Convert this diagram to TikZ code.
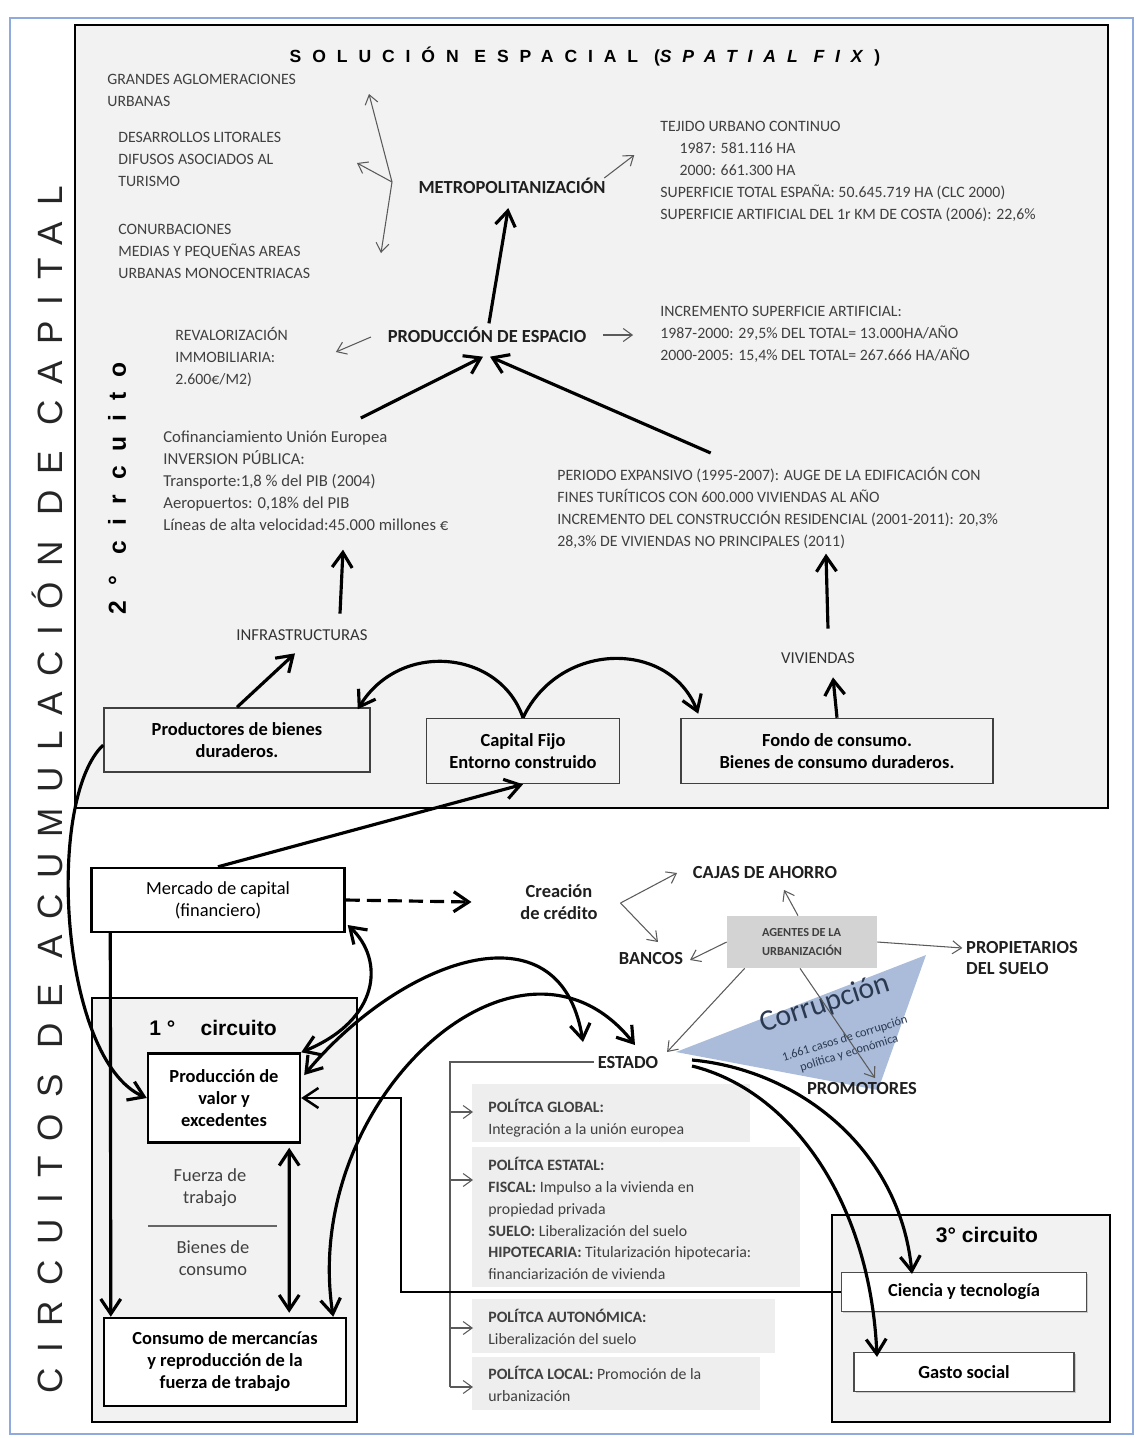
\documentclass[tikz,border=0pt]{standalone}
\usepackage{fontspec}
\setmainfont{Carlito}
\newfontfamily\arialfont{Liberation Sans}
\usepackage{xcolor}
\usetikzlibrary{arrows.meta, positioning, calc, shadows}

\definecolor{panelgray}{HTML}{F2F2F2}
\definecolor{policygray}{HTML}{EEEEEE}
\definecolor{agentgray}{HTML}{D3D3D3}
\definecolor{corrblue}{HTML}{AABCDA}
\definecolor{corrtext}{HTML}{2B3950}
\definecolor{frameblue}{HTML}{8FAADC}
\definecolor{textgray}{HTML}{404040}
\definecolor{linegray}{HTML}{5A5A5A}

\begin{document}
\begin{tikzpicture}[
    x=0.02cm, y=-0.02cm,
    smalltext/.style={anchor=north west, inner sep=0pt, align=left, text=textgray, font=\fontsize{9}{12.5}\selectfont},
    keyword/.style={inner sep=2pt, text=black!88, font=\bfseries\fontsize{10.5}{12.5}\selectfont},
    capsword/.style={inner sep=2pt, text=black!80, font=\fontsize{9.5}{12}\selectfont},
    greybox/.style={draw=black!75, line width=0.9pt, fill=panelgray, align=center, font=\bfseries\fontsize{10.5}{12.5}\selectfont},
    whitebox/.style={draw, line width=1.4pt, fill=white, align=center, font=\bfseries\fontsize{10.5}{12.5}\selectfont},
    lightbox/.style={draw=black!70, line width=0.7pt, fill=white, drop shadow={shadow xshift=1pt, shadow yshift=-1pt, opacity=0.35}, font=\bfseries\fontsize{10.5}{12.5}\selectfont},
    circuit/.style={draw, line width=1.4pt, fill=panelgray},
    policy/.style={anchor=north west, inner sep=0pt, align=left, text=textgray, font=\fontsize{9}{12.4}\selectfont},
    bigarrow/.style={-{Straight Barb[length=3mm, width=4mm]}, line width=1.8pt},
    twoway/.style={{Straight Barb[length=3mm, width=4mm]}-{Straight Barb[length=3mm, width=4mm]}, line width=1.8pt},
    thinarrow/.style={-{Straight Barb[length=1.8mm, width=2.6mm]}, line width=0.6pt, draw=linegray}
]
    \useasboundingbox (0,0) rectangle (1137,1438);
    \draw[frameblue, line width=1pt] (10,18) rectangle (1133,1434);

    % second circuit: spatial fix
    \draw[line width=1.6pt, fill=panelgray] (75,25) rectangle (1108,808);
    \node[font=\arialfont\addfontfeature{LetterSpace=62}\bfseries\fontsize{10}{11}\selectfont] (title) at (585,57) {SOLUCIÓN ESPACIAL (\textit{SPATIAL FIX})};
    \node[rotate=90, text=black!85, font=\arialfont\addfontfeature{LetterSpace=45}\fontsize{20}{21}\selectfont] (circuitos) at (47,790) {CIRCUITOS DE ACUMULACIÓN DE CAPITAL};
    \node[rotate=90, font=\arialfont\addfontfeature{LetterSpace=60}\bfseries\fontsize{14}{15}\selectfont] (second) at (117,488) {2° circuito};

    \node[smalltext] (grandes) at (107,74) {GRANDES AGLOMERACIONES\\URBANAS};
    \node[smalltext] (litoral) at (118,132) {DESARROLLOS LITORALES\\DIFUSOS ASOCIADOS AL\\TURISMO};
    \node[smalltext] (conurb) at (118,224) {CONURBACIONES\\MEDIAS Y PEQUEÑAS AREAS\\URBANAS MONOCENTRIACAS};
    \node[keyword] (metro) at (512,186) {METROPOLITANIZACIÓN};
    \node[smalltext] (tejido) at (660,121) {TEJIDO URBANO CONTINUO\\\hspace*{11pt}1987: 581.116 HA\\\hspace*{11pt}2000: 661.300 HA\\SUPERFICIE TOTAL ESPAÑA: 50.645.719 HA (CLC 2000)\\SUPERFICIE ARTIFICIAL DEL 1r KM DE COSTA (2006): 22,6\%};

    \node[keyword] (prod) at (487,335) {PRODUCCIÓN DE ESPACIO};
    \node[smalltext] (revalor) at (175,327) {REVALORIZACIÓN\\IMMOBILIARIA:\\2.600€/M2)};
    \node[smalltext] (increm) at (660,306) {INCREMENTO SUPERFICIE ARTIFICIAL:\\1987-2000: 29,5\% DEL TOTAL= 13.000HA/AÑO\\2000-2005: 15,4\% DEL TOTAL= 267.666 HA/AÑO};
    \node[smalltext, font=\fontsize{9.5}{12.5}\selectfont] (cofin) at (163,431) {Cofinanciamiento Unión Europea\\INVERSION PÚBLICA:\\Transporte:1,8 \% del PIB (2004)\\Aeropuertos: 0,18\% del PIB\\Líneas de alta velocidad:45.000 millones €};
    \node[smalltext] (vivtxt) at (557,467) {PERIODO EXPANSIVO (1995-2007): AUGE DE LA EDIFICACIÓN CON\\FINES TURÍTICOS CON 600.000 VIVIENDAS AL AÑO\\INCREMENTO DEL CONSTRUCCIÓN RESIDENCIAL (2001-2011): 20,3\%\\28,3\% DE VIVIENDAS NO PRINCIPALES (2011)};
    \node[capsword] (infra) at (302,635) {INFRASTRUCTURAS};
    \node[capsword] (viviendas) at (818,658) {VIVIENDAS};

    \node[greybox, minimum width=5.32cm, minimum height=1.28cm] (productores) at (237,740) {Productores de bienes\\duraderos.};
    \node[greybox, minimum width=3.86cm, minimum height=1.3cm] (capital) at (523,751) {Capital Fijo\\Entorno construido};
    \node[greybox, minimum width=6.24cm, minimum height=1.3cm] (fondo) at (837,751) {Fondo de consumo.\\Bienes de consumo duraderos.};

    \coordinate (fork) at (392,182);
    \coordinate (forkup) at (369,94);
    \coordinate (forkmid) at (357,163);
    \coordinate (forkdown) at (381,253);
    \draw[thinarrow] (fork) -- (forkup);
    \draw[thinarrow] (fork) -- (forkmid);
    \draw[thinarrow] (fork) -- (forkdown);
    \draw[thinarrow] ($(metro.east)+(-5,-8)$) -- ++(30,-23);
    \draw[thinarrow] ($(prod.west)+(-13,2)$) -- ++(-35,15);
    \draw[thinarrow] ($(prod.east)+(13,0)$) -- ++(30,0);

    \draw[bigarrow, shorten >=6pt] (prod) -- (metro);
    \draw[bigarrow] ($(cofin.north)+(55,-13)$) -- ($(prod.south)+(-4,10)$);
    \draw[bigarrow] ($(vivtxt.north)+(-67,-14)$) -- ($(prod.south)+(3,10)$);
    \draw[bigarrow] ($(infra.north)+(38,-12)$) -- ++(3,-64);
    \draw[bigarrow] ($(viviendas.north)+(10,-20)$) -- ++(-2,-75);
    \draw[bigarrow] (productores.north) -- ($(infra.south)+(-7,9)$);
    \draw[bigarrow] (fondo.north) -- ($(viviendas.south)+(15,10)$);
    \draw[bigarrow] (capital.north) .. controls (500,650) and (400,640) .. ($(productores.north east)+(-13,2)$);
    \draw[bigarrow] (capital.north) .. controls (560,640) and (670,640) .. ($(fondo.north west)+(18,-4)$);

    % credit and agents
    \node[whitebox, font=\fontsize{10.5}{12.5}\selectfont, minimum width=5.06cm, minimum height=1.28cm] (mercado) at (218,900) {Mercado de capital\\(financiero)};
    \node[keyword, align=center] (credito) at (559,902) {Creación\\de crédito};
    \node[keyword] (cajas) at (765,873) {CAJAS DE AHORRO};
    \node[keyword] (bancos) at (651,958) {BANCOS};
    \fill[corrblue] (676,1052) -- (926,955) -- (878,1090) -- cycle;
    \node[fill=agentgray, minimum width=3cm, minimum height=1.04cm, align=left, text=textgray, font=\bfseries\fontsize{7}{10.8}\selectfont] (agentes) at (802,942) {AGENTES DE LA\\URBANIZACIÓN};
    \node[keyword, align=left] (propietarios) at (1022,958) {PROPIETARIOS\\DEL SUELO};
    \node[keyword] (promotores) at (862,1088) {PROMOTORES};
    \node[keyword] (estado) at (628,1062) {ESTADO};
    \node[rotate=18, inner sep=0pt, text=corrtext, font=\fontsize{17}{18}\selectfont] (corrupcion) at (825,1004) {Corrupción};
    \node[rotate=17, inner sep=0pt, text=corrtext, align=center, font=\fontsize{7}{8.5}\selectfont] (casos) at (847,1046) {1.661 casos de corrupción\\política y económica};

    \draw[bigarrow] (mercado.north) -- (capital.south);
    \draw[bigarrow, dash pattern=on 8pt off 4pt] (mercado.east) -- ($(credito.west)+(-45,0)$);
    \coordinate (creditfork) at ($(credito.east)+(19,1)$);
    \draw[thinarrow] (creditfork) -- ($(cajas.west)+(-12,0)$);
    \draw[thinarrow] (creditfork) -- ($(bancos.north)+(7,-6)$);
    \draw[thinarrow] ($(agentes.north)+(-4,0)$) -- ($(cajas.south)+(19,7)$);
    \draw[thinarrow] (agentes.west) -- ($(bancos.east)+(3,2)$);
    \draw[thinarrow] (agentes.east) -- ($(propietarios.west)+(0,-10)$);
    \draw[thinarrow] ($(agentes.south west)+(18,0)$) -- ($(estado.north east)+(5,0)$);
    \draw[thinarrow] ($(agentes.south)+(-2,0)$) -- ($(promotores.north)+(13,0)$);

    % first circuit
    \draw[circuit] (92,998) rectangle (357,1422);
    \node[font=\arialfont\bfseries\fontsize{12}{14}\selectfont] (first) at (213,1028) {1 °\hspace{1.2em}circuito};
    \node[whitebox, minimum width=3.04cm, minimum height=1.78cm] (prodval) at (224,1098) {Producción de\\valor y\\excedentes};
    \node[align=center, text=textgray, font=\fontsize{10.5}{12.5}\selectfont] (fuerza) at (210,1188) {Fuerza de\\trabajo};
    \node[align=center, text=textgray, font=\fontsize{10.5}{12.5}\selectfont] (bienes) at (213,1258) {Bienes de\\consumo};
    \draw[black!60, line width=0.6pt] (148,1226) -- (277,1226);
    \node[whitebox, minimum width=4.84cm, minimum height=1.76cm] (consumo) at (225,1362) {Consumo de mercancías\\y reproducción de la\\fuerza de trabajo};

    % third circuit
    \draw[circuit] (832,1215) rectangle (1110,1422);
    \node[font=\arialfont\bfseries\fontsize{12}{14}\selectfont] (third) at (987,1235) {3° circuito};
    \node[lightbox, minimum width=4.9cm, minimum height=0.78cm] (ciencia) at (964,1292) {Ciencia y tecnología};
    \node[lightbox, minimum width=4.4cm, minimum height=0.78cm] (gasto) at (964,1372) {Gasto social};

    % state policies
    \fill[policygray] (472,1084) rectangle (750,1142);
    \fill[policygray] (472,1147) rectangle (800,1287);
    \fill[policygray] (472,1299) rectangle (775,1353);
    \fill[policygray] (472,1357) rectangle (760,1410);
    \node[policy] (global) at (488,1099) {\textbf{POLÍTCA GLOBAL:}\\Integración a la unión europea};
    \node[policy] (estatal) at (488,1157) {\textbf{POLÍTCA ESTATAL:}\\\textbf{FISCAL:} Impulso a la vivienda en\\propiedad privada\\\textbf{SUELO:} Liberalización del suelo\\\textbf{HIPOTECARIA:} Titularización hipotecaria:\\financiarización de vivienda};
    \node[policy] (autonomica) at (488,1309) {\textbf{POLÍTCA AUTONÓMICA:}\\Liberalización del suelo};
    \node[policy] (local) at (488,1366) {\textbf{POLÍTCA LOCAL:} Promoción de la\\urbanización};
    \draw[linegray, line width=0.7pt] (estado.west) -| (450,1387);
    \foreach \yy in {1112,1180,1328,1387}
        \draw[thinarrow] (450,\yy) -- (473,\yy);

    % links between circuits
    \draw[bigarrow] ($(productores.west)+(0,5)$) .. controls (45,800) and (60,1060) .. (prodval.west);
    \draw[bigarrow] ($(mercado.south west)+(20,0)$) -- ($(consumo.north west)+(8,0)$);
    \draw[twoway] ($(mercado.east)+(2,25)$) .. controls (385,960) and (380,1020) .. (prodval.north east);
    \draw[twoway] ($(prodval.east)+(3,-23)$) .. controls (400,960) and (560,900) .. ($(estado.north)+(-45,-10)$);
    \draw[twoway] ($(consumo.north east)+(-14,0)$) .. controls (300,1100) and (520,900) .. ($(estado.north)+(7,-7)$);
    \draw[twoway] ($(prodval.south east)+(-12,4)$) -- ($(consumo.north east)+(-58,-4)$);
    \draw[bigarrow] ($(estado.east)+(30,-2)$) .. controls (800,1070) and (900,1150) .. ($(ciencia.north)+(-52,2)$);
    \draw[bigarrow] ($(estado.east)+(30,4)$) .. controls (790,1090) and (870,1200) .. ($(gasto.north)+(-87,5)$);
    \draw[bigarrow, line width=1.4pt] (ciencia.west) -- ++(-440,0) |- (prodval.east);
\end{tikzpicture}
\end{document}
